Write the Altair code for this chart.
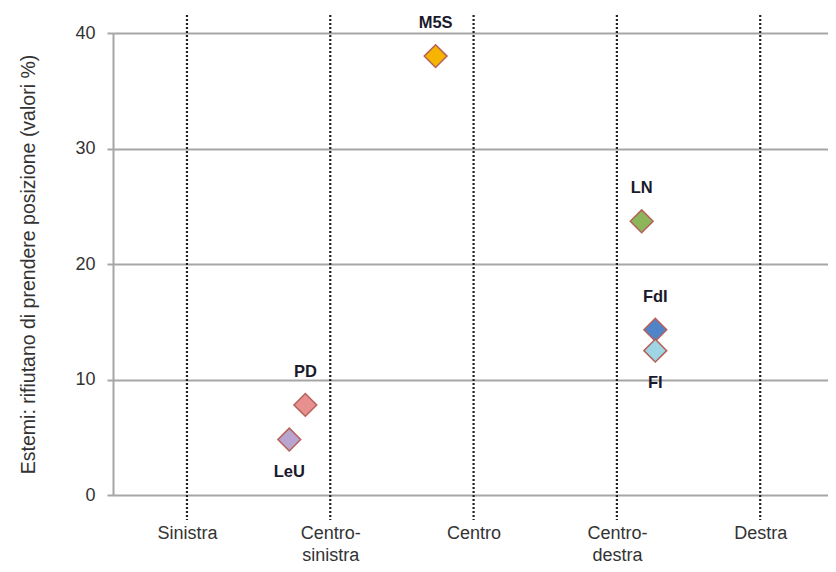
import altair as alt
import pandas as pd

# Data
parties = ["M5S", "LN", "FdI", "FI", "PD", "LeU"]
position = [2.735, 4.173, 4.268, 4.268, 1.826, 1.714]
refuse_pct = [38.0, 23.7, 14.3, 12.5, 7.8, 4.8]
label_side = ["above", "above", "above", "below", "above", "below"]
colors = ["#f5b400", "#8db55a", "#4f84c8", "#9ed6e6", "#e89090", "#b8a4cf"]

categories = ["Sinistra", "Centro-sinistra", "Centro", "Centro-destra", "Destra"]
cat_values = [1, 2, 3, 4, 5]
y_ticks = [0, 10, 20, 30, 40]

df = pd.DataFrame({
    "party": parties,
    "pos": position,
    "pct": refuse_pct,
    "side": label_side,
    "color": colors,
})
cats = pd.DataFrame({"v": cat_values, "name": categories})

FONT = "Liberation Sans"

xscale = alt.Scale(domain=[0.484, 5.473], nice=False, zero=False)
yscale = alt.Scale(domain=[0, 40], nice=False)

label_expr = ("datum.value == 1 ? 'Sinistra' : datum.value == 2 ? ['Centro-', 'sinistra'] : "
              "datum.value == 3 ? 'Centro' : datum.value == 4 ? ['Centro-', 'destra'] : "
              "datum.value == 5 ? 'Destra' : ''")

base_axes = alt.Chart(cats).mark_point(opacity=0).encode(
    x=alt.X("v:Q", scale=xscale,
            axis=alt.Axis(values=cat_values, labelExpr=label_expr, title=None,
                          grid=False, ticks=False, domain=False,
                          labelFont=FONT, labelFontSize=18, labelColor="#333333",
                          labelPadding=29, labelLineHeight=22,
                          labelBaseline="top")),
    y=alt.value(0),
)

grid = alt.Chart(cats).mark_point(opacity=0).encode(
    y=alt.Y("v:Q", scale=yscale,
            axis=alt.Axis(values=y_ticks, title="Estemi: rifiutano di prendere posizione (valori %)",
                          grid=True, gridColor="#a6a6a6", gridWidth=2,
                          domain=True, domainColor="#a6a6a6", domainWidth=2,
                          ticks=True, tickColor="#a6a6a6", tickSize=6, tickWidth=2,
                          labelFont=FONT, labelFontSize=18, labelColor="#333333",
                          labelPadding=12,
                          titleFont=FONT, titleFontSize=19.5, titleFontWeight="normal",
                          titleColor="#333333", titlePadding=36)),
)

vlines = alt.Chart(cats).mark_rule(strokeDash=[2, 2], strokeWidth=2.2, color="#222222", clip=False).encode(
    x=alt.X("v:Q", scale=xscale),
    y=alt.value(-18),
    y2=alt.value(487),
)

points = alt.Chart(df).mark_point(shape="diamond", size=520, filled=True, opacity=1,
                                  stroke="#b5615a", strokeWidth=1.5).encode(
    x=alt.X("pos:Q", scale=xscale),
    y=alt.Y("pct:Q", scale=yscale),
    fill=alt.Fill("color:N", scale=None),
)

above = alt.Chart(df).transform_filter("datum.side == 'above'").mark_text(
    font=FONT, fontSize=16.5, fontWeight="bold", color="#1a1a2e", dy=-33
).encode(x=alt.X("pos:Q", scale=xscale), y=alt.Y("pct:Q", scale=yscale), text="party:N")

below = alt.Chart(df).transform_filter("datum.side == 'below'").mark_text(
    font=FONT, fontSize=16.5, fontWeight="bold", color="#1a1a2e", dy=32
).encode(x=alt.X("pos:Q", scale=xscale), y=alt.Y("pct:Q", scale=yscale), text="party:N")

chart = alt.layer(grid, base_axes, vlines, points, above, below).properties(
    width=715, height=462,
    autosize=alt.AutoSizeParams(type="none"),
    padding={"left": 105, "top": 25, "right": 0, "bottom": 69},
).configure_view(stroke=None).configure(background="white")

chart.save("out.html", embed_options={"renderer": "svg", "actions": False})
